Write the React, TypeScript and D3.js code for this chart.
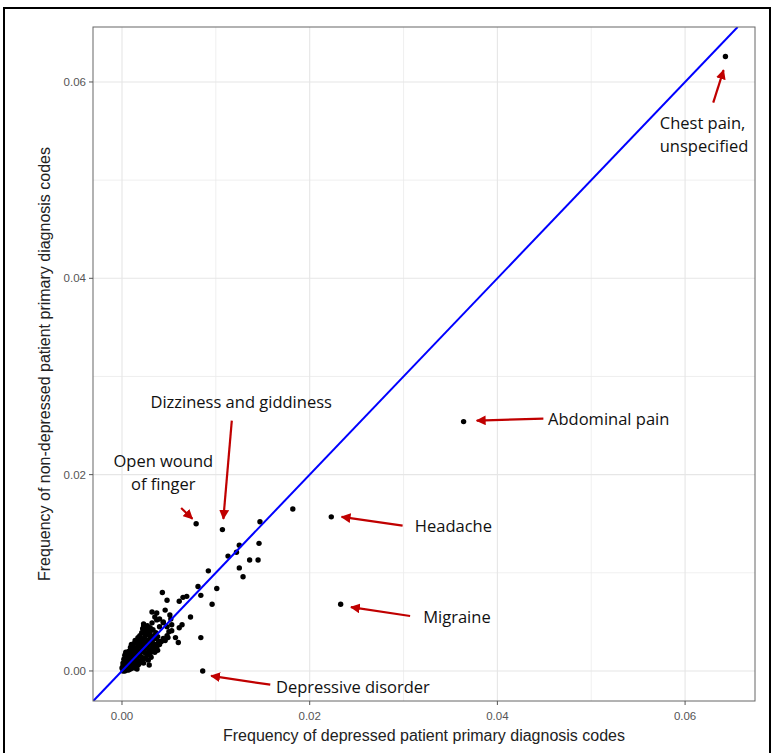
import React from "react"
import * as d3 from "d3"

// ── Data (frequencies) ─────────────────────────────────────────────────────────

const depressedFreq = [
  // dense cluster near the origin
  0.0001, 0.0002, 0.0003, 0.0004, 0.0005, 0.0006, 0.0002, 0.0003, 0.0005, 0.0007,
  0.0008, 0.0009, 0.0004, 0.0006, 0.0008, 0.001, 0.0011, 0.0012, 0.0007, 0.0009,
  0.0011, 0.0013, 0.0014, 0.0015, 0.001, 0.0012, 0.0014, 0.0016, 0.0017, 0.0018,
  0.0013, 0.0015, 0.0019, 0.002, 0.0021, 0.0016, 0.0018, 0.0022, 0.0023, 0.0024,
  0.002, 0.0025, 0.0026, 0.0027, 0.0022, 0.0028, 0.0029, 0.003, 0.0024, 0.0031,
  0.0032, 0.0033, 0.0034, 0.0027, 0.0035, 0.0036, 0.003, 0.0038, 0.0019, 0.0021,
  0.0025, 0.0029, 0.0032, 0.0036, 0.0039, 0.0003, 0.0005, 0.0008, 0.001, 0.0001,
  0.0012, 0.0015, 0.0017,
  // upper-left edge of the cluster
  0.0, 0.0001, 0.0002, 0.0003, 0.0004, 0.0006, 0.0007, 0.0009, 0.001, 0.0011,
  0.0012, 0.0013, 0.0014, 0.0016, 0.0017, 0.0018, 0.0019, 0.002, 0.0021, 0.0022,
  0.0023, 0.0024, 0.0025, 0.0026, 0.0027, 0.0028, 0.0029, 0.003,
  // lower-right edge of the cluster
  0.0007, 0.0009, 0.0011, 0.0013, 0.0014, 0.0016, 0.0018, 0.002, 0.0022, 0.0023,
  0.0025, 0.0027, 0.0028, 0.003, 0.0031, 0.0033, 0.0034, 0.0035, 0.0037, 0.0038,
  0.004, 0.0042, 0.0044, 0.0046, 0.0048, 0.005, 0.0053,
  // spread of the cluster
  0.0043, 0.0048, 0.0061, 0.0065, 0.0069, 0.0032, 0.0037, 0.0046, 0.0051, 0.0052,
  0.004, 0.0073, 0.0064, 0.0061, 0.0057, 0.006, 0.0049, 0.0023, 0.0024, 0.0029,
  0.0035, 0.0044, 0.0033, 0.0048, 0.004, 0.0053, 0.0044, 0.0037, 0.0032,
  // upper points
  0.0081, 0.0101, 0.0084, 0.0096, 0.0084, 0.0086, 0.0092, 0.0113, 0.0122, 0.0125,
  0.0125, 0.0129, 0.0136, 0.0145, 0.0146, 0.0147, 0.0079, 0.0107, 0.0182, 0.0223,
  0.0233, 0.0364, 0.0643,
]

const nonDepressedFreq = [
  0.0, 0.0001, 0.0, 0.0002, 0.0001, 0.0003, 0.0004, 0.0006, 0.0005, 0.0006,
  0.0004, 0.0007, 0.0008, 0.0009, 0.001, 0.0009, 0.0006, 0.0011, 0.0012, 0.0013,
  0.0014, 0.0013, 0.001, 0.0015, 0.0016, 0.0018, 0.0017, 0.0013, 0.0017, 0.002,
  0.0021, 0.0022, 0.0016, 0.0019, 0.0023, 0.0024, 0.0026, 0.002, 0.0025, 0.0022,
  0.0028, 0.0027, 0.0024, 0.003, 0.0031, 0.0026, 0.0032, 0.0029, 0.0034, 0.0035,
  0.0031, 0.0028, 0.0036, 0.0037, 0.0033, 0.0039, 0.004, 0.0035, 0.001, 0.0014,
  0.0018, 0.0021, 0.0024, 0.0027, 0.003, 0.0011, 0.0014, 0.0019, 0.0022, 0.0005,
  0.0004, 0.0008, 0.0006,
  0.0003, 0.0008, 0.0012, 0.0016, 0.0019, 0.0015, 0.002, 0.0024, 0.0027, 0.0019,
  0.0024, 0.0028, 0.0031, 0.0029, 0.0034, 0.0031, 0.0036, 0.0033, 0.0039, 0.0043,
  0.0048, 0.0038, 0.0044, 0.004, 0.0046, 0.0042, 0.0038, 0.0044,
  0.0001, 0.0002, 0.0003, 0.0005, 0.0003, 0.0002, 0.0007, 0.0009, 0.0012, 0.0008,
  0.0013, 0.0016, 0.0011, 0.0018, 0.0014, 0.002, 0.0023, 0.0019, 0.0024, 0.0021,
  0.0027, 0.003, 0.0033, 0.0031, 0.0036, 0.004, 0.0041,
  0.008, 0.0072, 0.0071, 0.0075, 0.0076, 0.006, 0.0059, 0.0062, 0.0057, 0.0053,
  0.0053, 0.0055, 0.0047, 0.0044, 0.0034, 0.0029, 0.0034, 0.0046, 0.004, 0.0006,
  0.0055, 0.0049, 0.0042, 0.0045, 0.0045, 0.0047, 0.005, 0.0052, 0.0049,
  0.0086, 0.0084, 0.0077, 0.0068, 0.0034, 0.0, 0.0102, 0.0117, 0.0121, 0.0128,
  0.0105, 0.0096, 0.0113, 0.0113, 0.013, 0.0152, 0.015, 0.0144, 0.0165, 0.0157,
  0.0068, 0.0254, 0.0626,
]

const xTicks = [0, 0.02, 0.04, 0.06]
const yTicks = [0, 0.02, 0.04, 0.06]
const minorTicks = [0.01, 0.03, 0.05]

// label lines, label anchor, arrow tail, arrow head (data units)
const annotations = [
  { lines: ["Chest pain,", "unspecified"], anchor: "start", at: [0.0573, 0.0558], from: [0.063, 0.0579], to: [0.0641, 0.0612] },
  { lines: ["Abdominal pain"], anchor: "start", at: [0.0454, 0.0256], from: [0.0449, 0.0257], to: [0.0378, 0.0255] },
  { lines: ["Headache"], anchor: "start", at: [0.0312, 0.0147], from: [0.0299, 0.0148], to: [0.0234, 0.0157] },
  { lines: ["Migraine"], anchor: "start", at: [0.0321, 0.0055], from: [0.0307, 0.0056], to: [0.0244, 0.0065] },
  { lines: ["Depressive disorder"], anchor: "start", at: [0.0164, -0.0017], from: [0.0158, -0.0014], to: [0.0095, -0.0005] },
  { lines: ["Open wound", "of finger"], anchor: "middle", at: [0.0044, 0.0214], from: [0.0063, 0.0166], to: [0.0075, 0.0155] },
  { lines: ["Dizziness and giddiness"], anchor: "middle", at: [0.0127, 0.0274], from: [0.0117, 0.0255], to: [0.0108, 0.0155] },
]

// ── Chart ──────────────────────────────────────────────────────────────────────

const W = 773
const H = 753
const panel = { left: 93, right: 755, top: 27, bottom: 701 }

export default function App() {
  const x = d3.scaleLinear().domain([-0.00309, 0.06745]).range([panel.left, panel.right])
  const y = d3.scaleLinear().domain([-0.00306, 0.0656]).range([panel.bottom, panel.top])

  const points = depressedFreq.map((d, i) => ({ x: d, y: nonDepressedFreq[i] }))

  const diag = d3.line<number>().x(v => x(v)).y(v => y(v))
  const lo = Math.max(x.domain()[0], y.domain()[0])
  const hi = Math.min(x.domain()[1], y.domain()[1])

  const axisFont = "'Liberation Sans', Arial, sans-serif"
  const noteFont = "'Open Sans', 'Noto Sans', sans-serif"

  return (
    <svg width={W} height={H} style={{ position: "absolute", left: 0, top: 0, background: "white" }}>
      <defs>
        <marker id="arr" viewBox="0 0 10 10" refX={9} refY={5} markerWidth={4.5} markerHeight={4.5} orient="auto-start-reverse">
          <path d="M0,0 L10,5 L0,10 z" fill="#c00000" />
        </marker>
        <clipPath id="panel-clip">
          <rect x={panel.left} y={panel.top} width={panel.right - panel.left} height={panel.bottom - panel.top} />
        </clipPath>
      </defs>

      {/* outer frame */}
      <rect x={4} y={8} width={766} height={760} fill="none" stroke="#000" strokeWidth={2} />

      {/* grid */}
      {minorTicks.map(t => (
        <g key={`m${t}`}>
          <line x1={x(t)} x2={x(t)} y1={panel.top} y2={panel.bottom} stroke="#ebebeb" strokeWidth={0.8} />
          <line x1={panel.left} x2={panel.right} y1={y(t)} y2={y(t)} stroke="#ebebeb" strokeWidth={0.8} />
        </g>
      ))}
      {xTicks.map(t => (
        <line key={`gx${t}`} x1={x(t)} x2={x(t)} y1={panel.top} y2={panel.bottom} stroke="#e6e6e6" strokeWidth={1.1} />
      ))}
      {yTicks.map(t => (
        <line key={`gy${t}`} x1={panel.left} x2={panel.right} y1={y(t)} y2={y(t)} stroke="#e6e6e6" strokeWidth={1.1} />
      ))}

      {/* points and reference line */}
      <g clipPath="url(#panel-clip)">
        {points.map((p, i) => (
          <circle key={i} cx={x(p.x)} cy={y(p.y)} r={2.7} fill="#000" />
        ))}
        <path d={diag([lo, hi]) ?? ""} stroke="#0000ff" strokeWidth={2} fill="none" />
      </g>

      {/* panel border */}
      <rect x={panel.left} y={panel.top} width={panel.right - panel.left} height={panel.bottom - panel.top} fill="none" stroke="#666" strokeWidth={1} />

      {/* x axis */}
      {xTicks.map(t => (
        <g key={`xt${t}`}>
          <line x1={x(t)} x2={x(t)} y1={panel.bottom} y2={panel.bottom + 4} stroke="#555" />
          <text x={x(t)} y={panel.bottom + 19} textAnchor="middle" fontSize={11.5} fill="#555" fontFamily={axisFont}>
            {d3.format(".2f")(t)}
          </text>
        </g>
      ))}
      <text x={(panel.left + panel.right) / 2} y={741} textAnchor="middle" fontSize={16} fill="#222" fontFamily={axisFont}>
        Frequency of depressed patient primary diagnosis codes
      </text>

      {/* y axis */}
      {yTicks.map(t => (
        <g key={`yt${t}`}>
          <line x1={panel.left - 4} x2={panel.left} y1={y(t)} y2={y(t)} stroke="#555" />
          <text x={panel.left - 7} y={y(t)} dy="0.35em" textAnchor="end" fontSize={11.5} fill="#555" fontFamily={axisFont}>
            {d3.format(".2f")(t)}
          </text>
        </g>
      ))}
      <text
        transform={`translate(50,${(panel.top + panel.bottom) / 2}) rotate(-90)`}
        textAnchor="middle"
        fontSize={16}
        fill="#222"
        fontFamily={axisFont}
      >
        Frequency of non-depressed patient primary diagnosis codes
      </text>

      {/* annotations */}
      {annotations.map(a => (
        <g key={a.lines.join(" ")}>
          <line
            x1={x(a.from[0])}
            y1={y(a.from[1])}
            x2={x(a.to[0])}
            y2={y(a.to[1])}
            stroke="#c00000"
            strokeWidth={2.2}
            markerEnd="url(#arr)"
          />
          {a.lines.map((ln, j) => (
            <text
              key={ln}
              x={x(a.at[0])}
              y={y(a.at[1]) + j * 23.5}
              dy="0.35em"
              textAnchor={a.anchor}
              fontSize={16.5}
              fill="#111"
              fontFamily={noteFont}
            >
              {ln}
            </text>
          ))}
        </g>
      ))}
    </svg>
  )
}
